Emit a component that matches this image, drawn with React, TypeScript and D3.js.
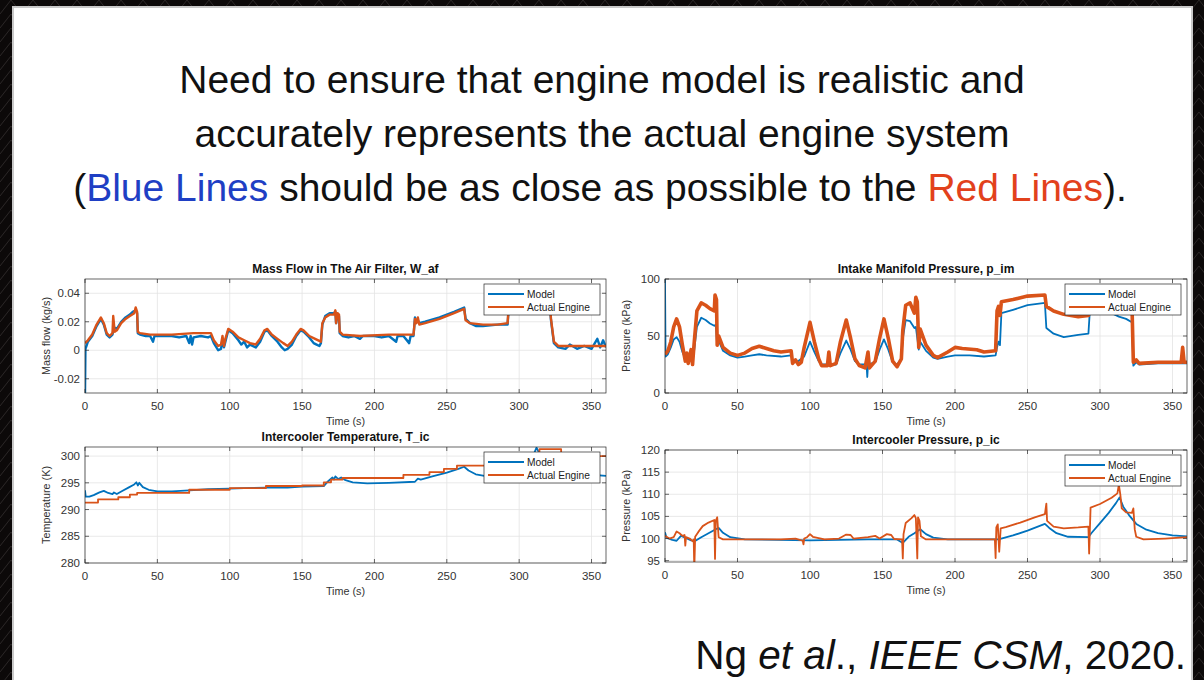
import React from "react";
import * as d3 from "d3";

type Pt = [number, number];

// ---- data (time in s) ----
const timeTicks = [0, 50, 100, 150, 200, 250, 300, 350];

const wafTicks = [-0.02, 0, 0.02, 0.04];
const wafTickLabels = ["-0.02", "0", "0.02", "0.04"];
const wafActual: Pt[] = [
  [0, 0.005], [2, 0.007], [5, 0.011], [8, 0.018], [11, 0.023], [13, 0.019], [15, 0.012], [17, 0.01],
  [19, 0.012], [19.5, 0.024], [20.5, 0.013], [22, 0.014], [25, 0.019], [28, 0.022], [31, 0.024],
  [34, 0.026], [35, 0.03], [36, 0.027], [36.5, 0.013], [38, 0.012], [45, 0.011], [60, 0.011],
  [75, 0.012], [87, 0.012], [89, 0.007], [92, 0.003], [94, 0.004], [95, 0.01], [96, 0.003],
  [97, 0.008], [99, 0.015], [102, 0.013], [106, 0.009], [110, 0.007], [114, 0.005], [118, 0.004],
  [121, 0.008], [124, 0.014], [126, 0.015], [129, 0.011], [133, 0.008], [137, 0.005], [140, 0.003],
  [143, 0.006], [146, 0.011], [149, 0.015], [151, 0.014], [155, 0.01], [159, 0.008], [163, 0.006],
  [164, 0.019], [166, 0.023], [169, 0.025], [172, 0.025], [173, 0.028], [173.5, 0.019],
  [174.5, 0.026], [175.5, 0.025], [176, 0.013], [178, 0.011], [190, 0.01], [210, 0.011],
  [227, 0.011], [228, 0.022], [229, 0.019], [230, 0.023], [231, 0.018], [235, 0.019], [245, 0.022],
  [255, 0.026], [262, 0.029], [263, 0.021], [266, 0.019], [275, 0.018], [285, 0.018], [292, 0.019],
  [293, 0.034], [305, 0.036], [321, 0.035], [322, 0.022], [324, 0.006], [327, 0.003], [340, 0.003],
  [360, 0.003],
];
const wafModel: Pt[] = [
  [0, -0.03], [0.3, 0.001], [1, 0.003], [2, 0.006], [5, 0.01], [8, 0.017], [11, 0.022], [13, 0.018],
  [15, 0.011], [17, 0.009], [19, 0.011], [20, 0.016], [22, 0.015], [25, 0.02], [28, 0.023],
  [31, 0.025], [33, 0.027], [35, 0.028], [36, 0.026], [36.5, 0.012], [38, 0.011], [42, 0.01],
  [45, 0.01], [47, 0.006], [48, 0.01], [55, 0.01], [60, 0.01], [65, 0.009], [70, 0.01], [72, 0.005],
  [73, 0.01], [74, 0.004], [75, 0.009], [80, 0.01], [85, 0.009], [87, 0.01], [89, 0.005], [92, 0],
  [94, 0.001], [95, 0.008], [96, 0.002], [97, 0.006], [99, 0.014], [102, 0.012], [106, 0.007],
  [108, 0.004], [110, 0.006], [112, 0.002], [114, 0.004], [118, 0.002], [121, 0.006], [124, 0.013],
  [126, 0.014], [129, 0.01], [133, 0.006], [136, 0.002], [138, 0], [140, 0.001], [143, 0.004],
  [146, 0.01], [149, 0.014], [151, 0.013], [155, 0.009], [158, 0.005], [160, 0.004], [162, 0.003],
  [163, 0.005], [164, 0.018], [166, 0.024], [169, 0.026], [172, 0.026], [173, 0.027], [173.5, 0.019],
  [174.5, 0.025], [175.5, 0.024], [176, 0.012], [178, 0.01], [182, 0.009], [186, 0.01], [190, 0.008],
  [192, 0.01], [200, 0.01], [205, 0.009], [210, 0.01], [215, 0.006], [216, 0.01], [220, 0.01],
  [224, 0.005], [225, 0.01], [227, 0.01], [228, 0.023], [229, 0.02], [230, 0.021], [231, 0.019],
  [235, 0.02], [245, 0.023], [255, 0.027], [262, 0.03], [263, 0.022], [266, 0.019], [270, 0.017],
  [275, 0.017], [285, 0.018], [292, 0.018], [293, 0.033], [321, 0.034], [322, 0.021], [324, 0.005],
  [327, 0.002], [332, 0.001], [335, 0.004], [340, 0.001], [345, 0.003], [350, 0.001], [354, 0.008],
  [356, 0.002], [358, 0.007], [360, 0.002],
];

const pimTicks = [0, 50, 100];
const pimTickLabels = ["0", "50", "100"];
const pimActual: Pt[] = [
  [0, 34], [2, 37], [4, 45], [6, 58], [8, 65], [10, 58], [12, 42], [14, 28], [15, 35], [16, 26],
  [18, 38], [19, 25], [20, 42], [22, 72], [25, 79], [28, 77], [31, 74], [34, 72], [34.5, 86],
  [35.5, 82], [36, 42], [37, 50], [40, 40], [45, 35], [50, 33], [55, 35], [60, 39], [65, 41],
  [70, 39], [75, 37], [80, 36], [87, 37], [88, 26], [90, 29], [92, 25], [94, 27], [96, 40], [100, 62],
  [103, 45], [106, 30], [108, 24], [112, 24], [113, 36], [114, 24], [118, 26], [121, 45], [125, 64],
  [128, 48], [131, 30], [134, 24], [138, 22], [140, 36], [141, 22], [145, 28], [148, 48], [151, 65],
  [154, 48], [157, 28], [160, 23], [163, 30], [164, 55], [166, 77], [169, 79], [172, 70], [173, 84],
  [174, 80], [175, 40], [176, 56], [180, 42], [185, 33], [188, 31], [195, 36], [200, 40], [205, 39],
  [215, 38], [220, 36], [228, 37], [229, 72], [230, 76], [231, 68], [232, 80], [240, 82], [250, 85],
  [262, 86], [263, 76], [268, 72], [275, 69], [285, 67], [292, 68], [293, 80], [322, 80], [323, 27],
  [325, 29], [327, 26], [340, 27], [356, 27], [357, 40], [358, 27], [360, 27],
];
const pimModel: Pt[] = [
  [0, 100], [0.4, 32], [2, 34], [4, 40], [6, 47], [8, 49], [10, 45], [12, 36], [14, 30], [16, 30],
  [18, 33], [20, 36], [22, 58], [25, 66], [28, 64], [31, 61], [34, 59], [35, 60], [36, 42], [37, 46],
  [40, 37], [45, 33], [50, 31], [55, 32], [60, 33], [65, 34], [70, 33], [80, 32], [87, 33], [88, 28],
  [92, 28], [96, 32], [100, 45], [103, 36], [106, 28], [108, 25], [118, 25], [121, 35], [125, 46],
  [128, 38], [131, 28], [134, 25], [139, 25], [139.5, 14], [140, 25], [145, 27], [148, 38], [151, 47],
  [154, 38], [157, 27], [160, 25], [163, 30], [164, 48], [166, 64], [169, 63], [172, 57], [173, 58],
  [175, 38], [176, 45], [180, 37], [185, 31], [188, 30], [195, 32], [200, 33], [210, 33], [220, 32],
  [228, 33], [229, 40], [230, 45], [231, 42], [232, 70], [240, 73], [250, 77], [262, 79], [263, 57],
  [268, 52], [275, 49], [285, 51], [292, 52], [293, 72], [305, 72], [313, 67], [318, 65], [322, 62],
  [323, 24], [325, 27], [327, 25], [340, 26], [360, 26],
];

const ticTicks = [280, 285, 290, 295, 300];
const ticTickLabels = ["280", "285", "290", "295", "300"];
// actual engine temperature is logged in steps
const ticActual: Pt[] = [
  [0, 291.3], [9, 291.9], [23, 292.3], [31, 292.8], [36, 293.1], [72, 293.7], [100, 294.0],
  [125, 294.4], [150, 294.5], [165, 295.1], [170, 295.6], [178, 295.9], [220, 296.5], [238, 297.0],
  [248, 297.6], [257, 298.2], [300, 299.5], [307, 300.5], [314, 301.3], [329, 300.6], [340, 300.0],
  [360, 300.0],
];
const ticModel: Pt[] = [
  [0, 293.6], [0.5, 292.4], [3, 292.4], [6, 292.7], [10, 293.2], [13, 293.5], [16, 293.1], [19, 292.9],
  [20, 293.2], [22, 292.9], [26, 293.5], [30, 294.1], [34, 294.7], [35.5, 295.1], [36.5, 294.5],
  [37.5, 295.0], [40, 294.2], [44, 293.7], [50, 293.4], [60, 293.4], [72, 293.6], [85, 293.8],
  [100, 293.9], [110, 294.0], [125, 294.1], [140, 294.1], [150, 294.3], [165, 294.4], [168, 295.3],
  [171, 296.0], [172, 295.6], [173, 296.2], [175, 295.7], [177, 296.0], [180, 295.5], [185, 295.1],
  [195, 294.9], [210, 295.0], [228, 295.2], [230, 295.8], [232, 295.6], [240, 296.2], [250, 296.9],
  [258, 297.6], [262, 298.0], [265, 297.3], [270, 296.6], [280, 296.1], [300, 296.5], [308, 299],
  [312, 301.6], [314, 300.5], [320, 298.8], [330, 297.5], [345, 296.6], [360, 296.3],
];

const picTicks = [95, 100, 105, 110, 115, 120];
const picTickLabels = ["95", "100", "105", "110", "115", "120"];
const picActual: Pt[] = [
  [0, 100.6], [3, 100], [6, 100.3], [8, 101.6], [10, 101.2], [12, 100.6], [13.5, 100.8], [14, 98.4],
  [14.5, 100.3], [17, 100], [19, 99.4], [19.8, 99.8], [20.2, 93], [20.8, 100.4], [23, 101.5],
  [26, 102.8], [30, 103.6], [34, 104.2], [34.5, 95.4], [35, 104], [36, 104.8], [37, 100.3], [40, 99.8],
  [60, 99.8], [80, 99.8], [90, 100], [95, 99.5], [95.5, 98.7], [96, 100], [98, 100.3], [100, 101],
  [102, 100.4], [110, 99.8], [120, 100], [125, 100.9], [128, 100.8], [130, 100], [140, 100.3],
  [145, 100.6], [148, 100], [153, 101], [156, 100.8], [158, 99.9], [163.5, 99.8], [164, 95.5],
  [164.5, 101], [166, 103.5], [170, 104.6], [172, 105.3], [173, 104.6], [174, 95.5], [174.5, 104.8],
  [175.5, 104], [176.5, 100.5], [180, 99.8], [200, 99.8], [227.5, 99.8], [228, 95.6], [228.5, 102.5],
  [229.5, 103.2], [230.5, 97], [231.5, 102.3], [235, 102.6], [245, 103.6], [255, 104.8], [262, 105.5],
  [263, 107.9], [263.5, 104], [268, 102.7], [275, 102.3], [285, 102.5], [292, 102.7], [292.5, 96.6],
  [293.5, 107], [300, 107.8], [308, 109.2], [312, 110.2], [313, 112.2], [314, 110], [315, 106.8],
  [318, 105.9], [322, 105.8], [323, 106.8], [324, 102], [325, 100.4], [330, 99.8], [345, 100],
  [360, 100.3],
];
const picModel: Pt[] = [
  [0, 101.4], [1, 100.2], [5, 99.7], [8, 99.5], [11, 100.6], [14, 100.2], [18, 99.6], [21, 99.5],
  [25, 100.3], [30, 101.2], [35, 102.1], [37, 102.4], [40, 101.3], [45, 100.3], [55, 99.8],
  [100, 99.6], [140, 99.8], [160, 99.8], [164, 99], [168, 100.4], [172, 101.2], [176, 102.1],
  [180, 101], [185, 100.2], [195, 99.8], [230, 99.8], [240, 100.7], [250, 101.8], [262, 103.3],
  [265, 102.4], [270, 101.2], [278, 100.4], [292, 100.3], [294, 101.2], [300, 103.5], [306, 105.8],
  [311, 108], [313.5, 109.3], [316, 107.2], [320, 105.3], [325, 103.3], [332, 102], [340, 101.2],
  [350, 100.7], [360, 100.5],
];

const MODEL = "#0072BD";
const ACTUAL = "#D95319";
const AXIS = "#262626";
const FONT = "'Liberation Sans', Arial, Helvetica, sans-serif";

type PanelProps = {
  id: string;
  left: number;
  right: number;
  top: number;
  bottom: number;
  yDomain: [number, number];
  yTicks: number[];
  yTickLabels: string[];
  title: string;
  yLabel: string;
  model: Pt[];
  actual: Pt[];
  modelWidth: number;
  actualWidth: number;
  step?: boolean;
};

function Panel(p: PanelProps) {
  const x = d3.scaleLinear().domain([0, 360]).range([p.left, p.right]);
  const y = d3.scaleLinear().domain(p.yDomain).range([p.bottom, p.top]);
  const line = d3.line<Pt>().x((d) => x(d[0])).y((d) => y(d[1]));
  const stepLine = d3.line<Pt>().x((d) => x(d[0])).y((d) => y(d[1])).curve(d3.curveStepAfter);
  const cx = (p.left + p.right) / 2;
  const lgW = 116;
  const lgX = p.right - 6 - lgW;
  const lgY = p.top + 5;
  const tk = 4;

  return (
    <g fontFamily={FONT}>
      <clipPath id={p.id}>
        <rect x={p.left} y={p.top} width={p.right - p.left} height={p.bottom - p.top} />
      </clipPath>
      <rect x={p.left} y={p.top} width={p.right - p.left} height={p.bottom - p.top} fill="#fff" />
      {/* grid */}
      {timeTicks.map((t) => (
        <line key={"gx" + t} x1={x(t)} x2={x(t)} y1={p.top} y2={p.bottom} stroke="#e3e3e3" strokeWidth={0.8} />
      ))}
      {p.yTicks.map((v) => (
        <line key={"gy" + v} x1={p.left} x2={p.right} y1={y(v)} y2={y(v)} stroke="#e3e3e3" strokeWidth={0.8} />
      ))}
      {/* series */}
      <g clipPath={`url(#${p.id})`} fill="none" strokeLinejoin="round">
        <path d={line(p.model) ?? ""} stroke={MODEL} strokeWidth={p.modelWidth} />
        <path d={(p.step ? stepLine : line)(p.actual) ?? ""} stroke={ACTUAL} strokeWidth={p.actualWidth} />
      </g>
      {/* box and ticks */}
      <rect x={p.left} y={p.top} width={p.right - p.left} height={p.bottom - p.top} fill="none" stroke={AXIS} strokeWidth={0.7} />
      {timeTicks.map((t) => (
        <g key={"tx" + t} stroke={AXIS} strokeWidth={0.7}>
          <line x1={x(t)} x2={x(t)} y1={p.bottom} y2={p.bottom - tk} />
          <line x1={x(t)} x2={x(t)} y1={p.top} y2={p.top + tk} />
        </g>
      ))}
      {p.yTicks.map((v) => (
        <g key={"ty" + v} stroke={AXIS} strokeWidth={0.7}>
          <line x1={p.left} x2={p.left + tk} y1={y(v)} y2={y(v)} />
          <line x1={p.right} x2={p.right - tk} y1={y(v)} y2={y(v)} />
        </g>
      ))}
      {/* tick labels */}
      {timeTicks.map((t) => (
        <text key={"lx" + t} x={x(t)} y={p.bottom + 17} fontSize={11.5} fill="#333" textAnchor="middle">
          {t}
        </text>
      ))}
      {p.yTicks.map((v, i) => (
        <text key={"ly" + v} x={p.left - 5} y={y(v) + 4} fontSize={11.5} fill="#333" textAnchor="end">
          {p.yTickLabels[i]}
        </text>
      ))}
      <text x={cx} y={p.bottom + 32} fontSize={10.8} fill="#333" textAnchor="middle">
        Time (s)
      </text>
      <text
        transform={`translate(${p.left - 35},${(p.top + p.bottom) / 2}) rotate(-90)`}
        fontSize={10.8}
        fill="#333"
        textAnchor="middle"
      >
        {p.yLabel}
      </text>
      <text x={cx} y={p.top - 6} fontSize={12} fontWeight="bold" fill="#111" textAnchor="middle">
        {p.title}
      </text>
      {/* legend */}
      <rect x={lgX} y={lgY} width={lgW} height={31} fill="#fff" stroke={AXIS} strokeWidth={0.7} />
      <line x1={lgX + 4} x2={lgX + 40} y1={lgY + 10} y2={lgY + 10} stroke={MODEL} strokeWidth={2} />
      <line x1={lgX + 4} x2={lgX + 40} y1={lgY + 23} y2={lgY + 23} stroke={ACTUAL} strokeWidth={2} />
      <text x={lgX + 43} y={lgY + 13.5} fontSize={10.2} fill="#222">
        Model
      </text>
      <text x={lgX + 43} y={lgY + 26.5} fontSize={10.2} fill="#222">
        Actual Engine
      </text>
    </g>
  );
}

export default function App() {
  return (
    <svg
      width={1204}
      height={680}
      style={{ position: "absolute", left: 0, top: 0, display: "block" }}
      fontFamily={FONT}
    >
      <defs>
        <pattern id="lattice" width="22" height="14" patternUnits="userSpaceOnUse">
          <rect width="22" height="14" fill="#0c0909" />
          <path d="M0 14 L11 0 L22 14" fill="none" stroke="#2a2626" strokeWidth="1" />
        </pattern>
      </defs>
      <rect x={0} y={0} width={1204} height={680} fill="url(#lattice)" />
      <rect x={13} y={7} width={1179} height={690} fill="#fff" stroke="#c9c9c9" strokeWidth={2} />

      <g fontSize={39} textAnchor="middle" fill="#111">
        <text x={602} y={93}>Need to ensure that engine model is realistic and</text>
        <text x={602} y={147}>accurately represents the actual engine system</text>
        <text x={600} y={201}>
          (<tspan fill="#1f3fc4">Blue Lines</tspan> should be as close as possible to the{" "}
          <tspan fill="#e2411c">Red Lines</tspan>).
        </text>
      </g>

      <Panel
        id="c1" left={85} right={606} top={279} bottom={393}
        yDomain={[-0.03, 0.05]} yTicks={wafTicks} yTickLabels={wafTickLabels}
        title="Mass Flow in The Air Filter, W_af" yLabel="Mass flow (kg/s)"
        model={wafModel} actual={wafActual} modelWidth={2.4} actualWidth={2.4}
      />
      <Panel
        id="c2" left={665} right={1187} top={279} bottom={393}
        yDomain={[0, 100]} yTicks={pimTicks} yTickLabels={pimTickLabels}
        title="Intake Manifold Pressure, p_im" yLabel="Pressure (kPa)"
        model={pimModel} actual={pimActual} modelWidth={1.8} actualWidth={3.6}
      />
      <Panel
        id="c3" left={85} right={606} top={447} bottom={563}
        yDomain={[280, 301.7]} yTicks={ticTicks} yTickLabels={ticTickLabels}
        title="Intercooler Temperature, T_ic" yLabel="Temperature (K)"
        model={ticModel} actual={ticActual} modelWidth={1.8} actualWidth={1.8} step
      />
      <Panel
        id="c4" left={665} right={1187} top={450} bottom={562}
        yDomain={[94.7, 120]} yTicks={picTicks} yTickLabels={picTickLabels}
        title="Intercooler Pressure, p_ic" yLabel="Pressure (kPa)"
        model={picModel} actual={picActual} modelWidth={1.8} actualWidth={1.8}
      />

      <text x={1186} y={669} fontSize={40.5} textAnchor="end" fill="#111">
        Ng <tspan fontStyle="italic">et al</tspan>., <tspan fontStyle="italic">IEEE CSM</tspan>, 2020.
      </text>
    </svg>
  );
}
